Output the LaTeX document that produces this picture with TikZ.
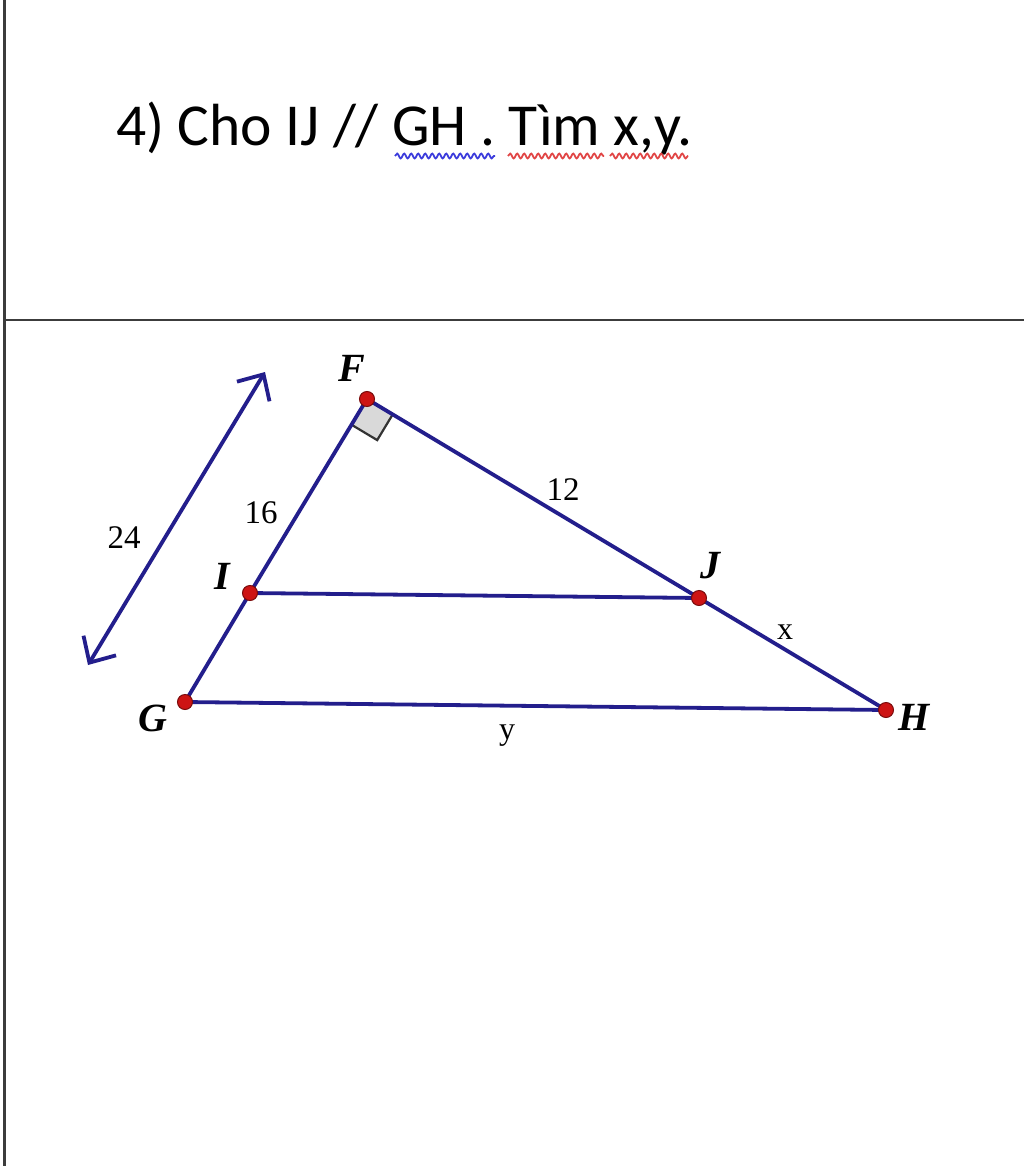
\documentclass[tikz,border=0pt]{standalone}
\usepackage{fontspec}
\setmainfont{Liberation Serif}
\newfontfamily\titlefont{Carlito}
\usetikzlibrary{arrows.meta,decorations.pathmorphing,calc}
\definecolor{navy}{RGB}{35,30,140}
\definecolor{dotred}{RGB}{205,20,20}
\definecolor{frame}{RGB}{60,60,60}
\tikzset{
  seg/.style={draw=navy,line width=3.8pt,line cap=round},
  pt/.style={circle,fill=dotred,draw=dotred!60!black,line width=1pt,inner sep=0pt,minimum size=15pt},
  vlabel/.style={font=\fontsize{40}{40}\selectfont\bfseries\itshape},
  num/.style={font=\fontsize{33}{33}\selectfont},
  var/.style={font=\fontsize{32}{32}\selectfont},
  wavy/.style={decorate,decoration={snake,amplitude=2.4pt,segment length=7pt},line width=1.8pt}
}
\begin{document}
\begin{tikzpicture}[x=1pt,y=-1pt]
\useasboundingbox (0,0) rectangle (1024,1166);
\fill[white] (0,0) rectangle (1024,1166);
% frame lines
\coordinate (ftop) at (4,0);
\coordinate (fbot) at (4,1166);
\coordinate (hl) at (4,320);
\coordinate (hr) at (1024,320);
\draw[frame,line width=3pt] (ftop) -- (fbot);
\draw[frame,line width=2.5pt] (hl) -- (hr);
% title
\node[anchor=base west,inner sep=0pt,font=\titlefont\fontsize{59.5}{59.5}\selectfont] (title) at (116,146) {4) Cho IJ // GH . Tìm x,y.};
\coordinate (w1a) at (395,156); \coordinate (w1b) at (495,156);
\coordinate (w2a) at (508,156); \coordinate (w2b) at (604,156);
\coordinate (w3a) at (610,156); \coordinate (w3b) at (688,156);
\draw[wavy,draw={rgb,255:red,60;green,60;blue,220}] (w1a) -- (w1b);
\draw[wavy,draw={rgb,255:red,225;green,70;blue,70}] (w2a) -- (w2b);
\draw[wavy,draw={rgb,255:red,225;green,70;blue,70}] (w3a) -- (w3b);
% points
\coordinate (F) at (367,399);
\coordinate (I) at (250,593);
\coordinate (G) at (185,702);
\coordinate (J) at (699,598);
\coordinate (H) at (886,710);
% right angle marker
\coordinate (ra1) at ($(F)+(-15.5,25.7)$);
\coordinate (ra3) at ($(F)+(25.7,15.4)$);
\coordinate (ra2) at ($(ra1)+(25.7,15.4)$);
\filldraw[fill=gray!30,draw=gray!40!black,line width=2.2pt]
  (F) -- (ra1) -- (ra2) -- (ra3) -- cycle;
% segments
\draw[seg] (F) -- (I);
\draw[seg] (I) -- (G);
\draw[seg] (F) -- (J);
\draw[seg] (J) -- (H);
\draw[seg] (I) -- (J);
\draw[seg] (G) -- (H);
% arrow
\coordinate (a1) at (88,665);
\coordinate (a2) at (265,372);
\draw[navy,line width=3.8pt,{Straight Barb[length=20pt,width=38pt,line width=3.8pt]}-{Straight Barb[length=20pt,width=38pt,line width=3.8pt]}] (a1) -- (a2);
% dots
\node[pt] (pF) at (F) {};
\node[pt] (pI) at (I) {};
\node[pt] (pG) at (G) {};
\node[pt] (pJ) at (J) {};
\node[pt] (pH) at (H) {};
% labels
\node[vlabel] (lF) at (352,368) {F};
\node[vlabel] (lI) at (222,576) {I};
\node[vlabel] (lG) at (153,718) {G};
\node[vlabel] (lJ) at (710,566) {J};
\node[vlabel] (lH) at (914,717) {H};
\node[num] (n16) at (261,513) {16};
\node[num] (n12) at (563,490) {12};
\node[num] (n24) at (124,538) {24};
\node[var] (vx) at (785,632) {x};
\node[var] (vy) at (507,736) {y};
\end{tikzpicture}
\end{document}
